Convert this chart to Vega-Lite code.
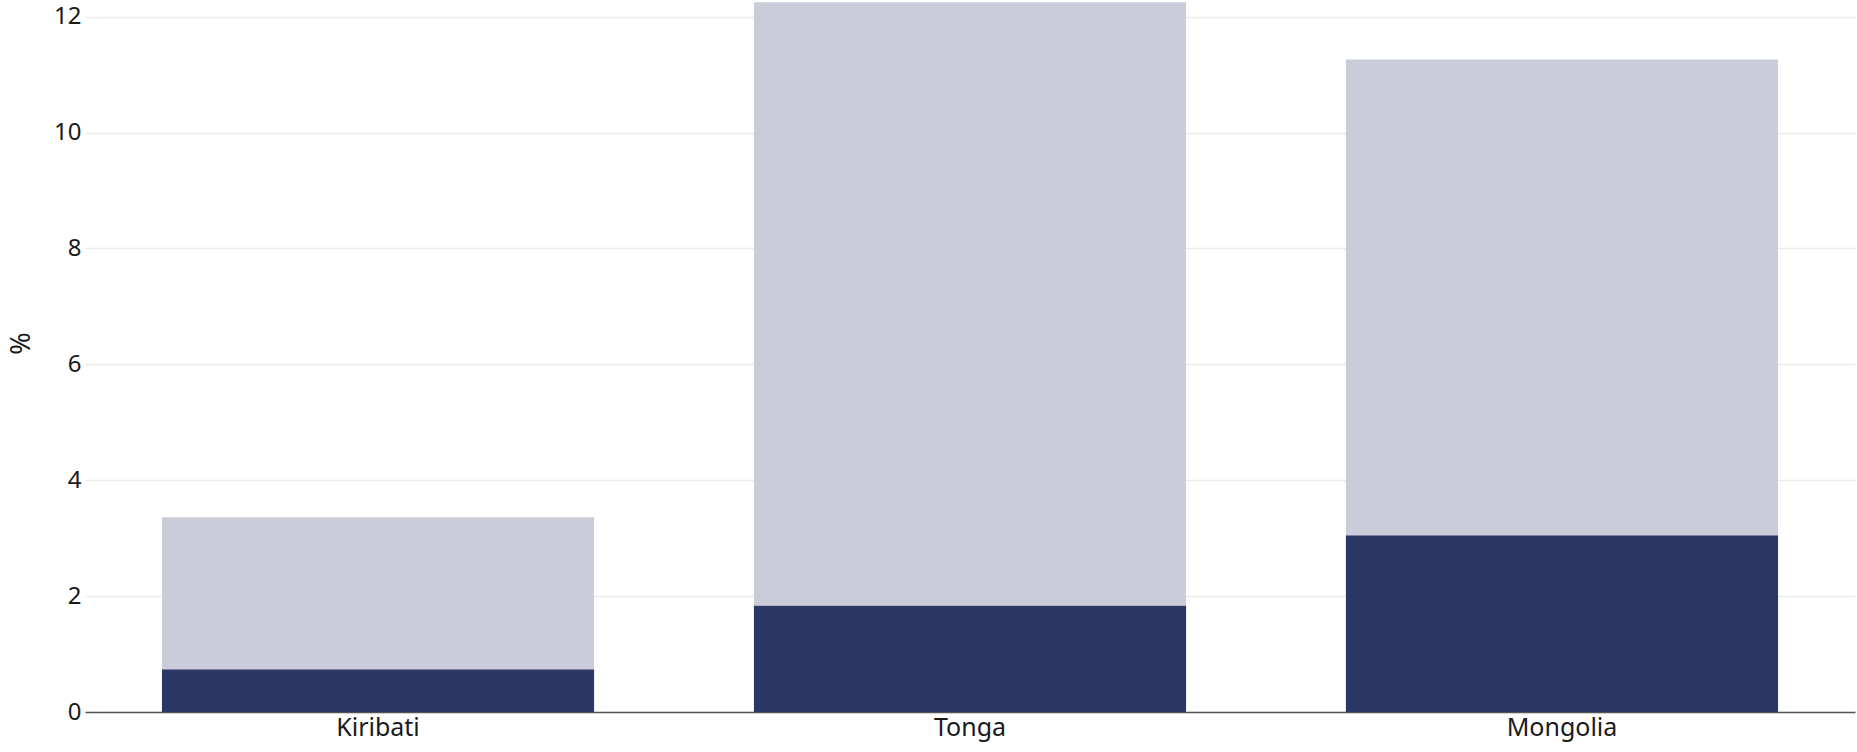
{
  "$schema": "https://vega.github.io/schema/vega-lite/v6.json",
  "width": 1770,
  "height": 708,
  "autosize": {"type": "none"},
  "padding": {"left": 85, "top": 4, "right": 2, "bottom": 40},
  "background": "white",
  "config": {
    "view": {"stroke": null},
    "font": "Noto Sans"
  },
  "data": {
    "values": [
      {"country": "Kiribati", "series": "Series 1", "ord": 1, "value": 0.74},
      {"country": "Kiribati", "series": "Series 2", "ord": 2, "value": 2.62},
      {"country": "Tonga", "series": "Series 1", "ord": 1, "value": 1.84},
      {"country": "Tonga", "series": "Series 2", "ord": 2, "value": 10.41},
      {"country": "Mongolia", "series": "Series 1", "ord": 1, "value": 3.05},
      {"country": "Mongolia", "series": "Series 2", "ord": 2, "value": 8.21}
    ]
  },
  "mark": {"type": "bar"},
  "encoding": {
    "x": {
      "field": "country",
      "type": "nominal",
      "sort": ["Kiribati", "Tonga", "Mongolia"],
      "scale": {"paddingInner": 0.27, "paddingOuter": 0.13},
      "axis": {
        "title": null,
        "labelAngle": 0,
        "labelFontSize": 25,
        "labelColor": "#1a1a1a",
        "labelPadding": 3,
        "ticks": false,
        "domain": true,
        "domainColor": "#555555",
        "domainWidth": 1.5,
        "grid": false
      }
    },
    "y": {
      "field": "value",
      "type": "quantitative",
      "stack": "zero",
      "scale": {"domain": [0, 12.22], "nice": false},
      "axis": {
        "title": "%",
        "titleFontSize": 27,
        "titleFontWeight": "normal",
        "titleColor": "#1a1a1a",
        "titleX": -64,
        "titleY": 339,
        "titleAngle": -90,
        "titleBaseline": "middle",
        "values": [0, 2, 4, 6, 8, 10, 12],
        "labelFontSize": 24,
        "labelColor": "#1a1a1a",
        "labelPadding": 4,
        "ticks": false,
        "domain": false,
        "grid": true,
        "gridColor": "#ebebeb",
        "gridWidth": 1.5
      }
    },
    "color": {
      "field": "series",
      "type": "nominal",
      "scale": {"domain": ["Series 1", "Series 2"], "range": ["#2b3764", "#cacdd9"]},
      "legend": null
    },
    "order": {"field": "ord", "type": "quantitative"}
  }
}
